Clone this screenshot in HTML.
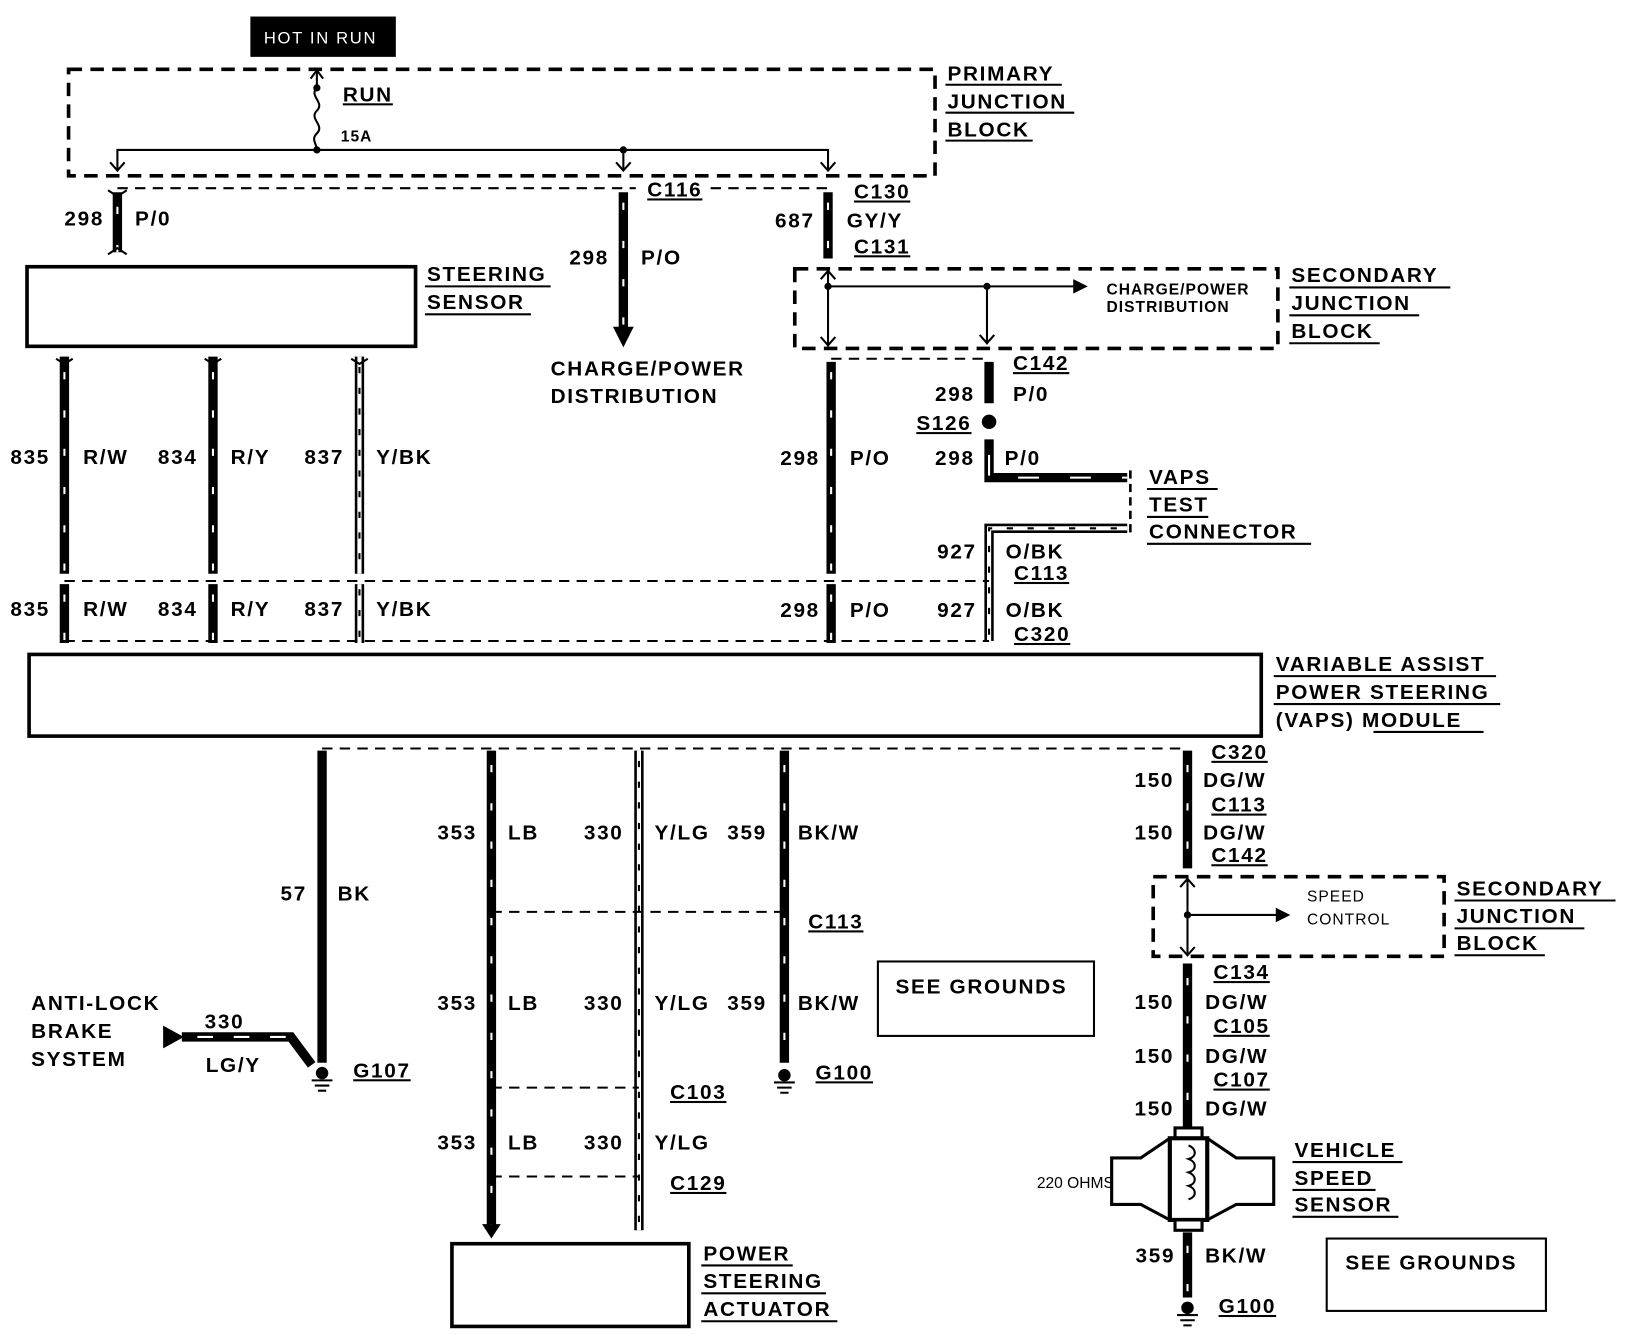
<!DOCTYPE html>
<html><head><meta charset="utf-8">
<style>
html,body{margin:0;padding:0;background:#fff}
svg{display:block}
text{font-family:"Liberation Sans",sans-serif;font-weight:bold;font-size:20px;letter-spacing:1.6px;fill:#000}
.u{text-decoration:underline}
.s{font-size:15px;letter-spacing:1px}
.w{stroke:#000;stroke-width:9;fill:none}
.wd{stroke:#fff;stroke-width:2;stroke-dasharray:7 30;fill:none}
.so{stroke:#000;stroke-width:9;fill:none}
.si{stroke:#fff;stroke-width:4;fill:none}
.sd{stroke:#000;stroke-width:2;stroke-dasharray:6 14;fill:none}
.db{stroke:#000;stroke-width:3.5;stroke-dasharray:13 8;fill:none}
.dt{stroke:#000;stroke-width:2;stroke-dasharray:10 7;fill:none}
.t{stroke:#000;stroke-width:2;fill:none}
.bx{stroke:#000;stroke-width:3.5;fill:#fff}
</style></head><body>
<svg width="1628" height="1344" viewBox="0 0 1567 1300" preserveAspectRatio="none" xmlns="http://www.w3.org/2000/svg">
<!-- top -->
<rect x="241" y="16" width="140" height="39" fill="#000"/>
<text x="254" y="42" style="fill:#fff;font-size:16px;font-weight:normal">HOT IN RUN</text>
<rect class="db" x="66" y="67" width="834" height="103"/>
<path class="t" d="M305 68 V85 M305 85 c-8 8 8 14 0 22 c-8 8 8 14 0 22 c-6 6 0 10 0 16"/>
<path class="t" d="M299 76 L305 68 L311 76"/>
<circle cx="305" cy="85" r="3.5"/><circle cx="305" cy="145" r="3.5"/>
<text class="u" x="330" y="98">RUN</text>
<text x="328" y="137" class="s">15A</text>
<path class="t" d="M113 165 V145 H797 V165 M600 145 V165"/>
<path class="t" d="M106 157 L113 165 L120 157 M593 157 L600 165 L607 157 M790 157 L797 165 L804 157"/>
<circle cx="600" cy="145" r="3.5"/>
<text x="912" y="78">PRIMARY</text><text x="912" y="105">JUNCTION</text><text x="912" y="132">BLOCK</text>
<path class="t" d="M910 82 H1022 M910 109 H1034 M910 136 H994" />
<path class="dt" d="M113 182 H612 M684 182 H797"/>
<!-- 298 left -->
<path class="w" d="M113 186 V244"/><path class="wd" d="M113 200 V244"/>
<path class="t" d="M104 184 L113 190 L122 184 M104 246 L113 240 L122 246"/>
<text x="62" y="218">298</text><text x="130" y="218">P/0</text>
<rect class="bx" x="26" y="258" width="374" height="77"/>
<text x="411" y="272">STEERING</text><text x="411" y="299">SENSOR</text>
<path class="t" d="M409 277 H530 M409 304 H511"/>
<!-- C116 -->
<path class="w" d="M600 186 V320"/><path class="wd" d="M600 196 V320"/>
<path d="M590 316 L610 316 L600 336 Z"/>
<text class="u" x="623" y="190">C116</text>
<text x="548" y="256">298</text><text x="617" y="256">P/O</text>
<text x="530" y="363">CHARGE/POWER</text><text x="530" y="390">DISTRIBUTION</text>
<!-- 687 -->
<path class="w" d="M797 186 V250"/><path class="wd" d="M797 196 V250"/>
<text x="746" y="220">687</text><text x="815" y="220">GY/Y</text>
<text class="u" x="822" y="192">C130</text><text class="u" x="822" y="245">C131</text>
<!-- secondary JB 1 -->
<rect class="db" x="765" y="260" width="465" height="77"/>
<path class="t" d="M797 262 V335 M797 277 H1035 M950 277 V333"/>
<path d="M1033 270 L1047 277 L1033 284 Z"/>
<path class="t" d="M790 270 L797 262 L804 270 M790 326 L797 334 L804 326 M943 324 L950 332 L957 324"/>
<circle cx="797" cy="277" r="3.5"/><circle cx="950" cy="277" r="3.5"/>
<text x="1065" y="285" class="s">CHARGE/POWER</text><text x="1065" y="302" class="s">DISTRIBUTION</text>
<text x="1243" y="273">SECONDARY</text><text x="1243" y="300">JUNCTION</text><text x="1243" y="327">BLOCK</text>
<path class="t" d="M1241 278 H1396 M1241 305 H1366 M1241 332 H1328"/>
<path class="dt" d="M800 347 H950"/>
<!-- 298 P/O center -->
<path class="w" d="M800 350 V555"/><path class="wd" d="M800 360 V555"/>
<path class="w" d="M800 565 V622"/><path class="wd" d="M800 575 V622"/>
<text x="751" y="450">298</text><text x="818" y="450">P/O</text>
<text x="751" y="597">298</text><text x="818" y="597">P/O</text>
<path class="w" d="M952 350 V390"/>
<circle cx="952" cy="408" r="7"/>
<path class="w" d="M952 425 V462 H1085"/><path class="wd" d="M952 440 V462 H1085" style="stroke-dasharray:20 30"/>
<text class="u" x="975" y="358">C142</text>
<text x="900" y="388">298</text><text x="975" y="388">P/0</text>
<text class="u" x="882" y="416">S126</text>
<text x="900" y="450">298</text><text x="967" y="450">P/0</text>
<path class="t" d="M1088 455 V520" style="stroke-dasharray:8 5;stroke-width:2.5"/>
<text x="1106" y="468">VAPS</text><text x="1106" y="495">TEST</text><text x="1106" y="521">CONNECTOR</text>
<path class="t" d="M1104 473 H1172 M1104 500 H1163 M1104 526 H1262"/>
<!-- O/BK -->
<path class="so" d="M1085 511 H952 V620"/><path class="si" d="M1085 511 H952 V620"/><path class="sd" d="M1075 511 H952 V620"/>
<text x="902" y="540">927</text><text x="968" y="540">O/BK</text><text class="u" x="976" y="561">C113</text>
<text x="902" y="597">927</text><text x="968" y="597">O/BK</text><text class="u" x="976" y="620">C320</text>
<!-- steering sensor wires -->
<path class="w" d="M62 345 V555 M205 345 V555 M62 565 V622 M205 565 V622"/>
<path class="wd" d="M62 360 V555 M205 360 V555 M62 575 V622 M205 575 V622"/>
<path class="so" d="M346 345 V555 M346 565 V622"/><path class="si" d="M346 345 V555 M346 565 V622"/><path class="sd" d="M346 355 V555 M346 570 V622"/>
<path class="t" d="M54 347 L62 352 L70 347 M197 347 L205 352 L213 347 M338 347 L346 352 L354 347"/>
<text x="10" y="449">835</text><text x="80" y="449">R/W</text><text x="152" y="449">834</text><text x="222" y="449">R/Y</text><text x="293" y="449">837</text><text x="362" y="449">Y/BK</text>
<text x="10" y="596">835</text><text x="80" y="596">R/W</text><text x="152" y="596">834</text><text x="222" y="596">R/Y</text><text x="293" y="596">837</text><text x="362" y="596">Y/BK</text>
<path class="dt" d="M62 562 H952 M62 620 H952"/>
<rect class="bx" x="28" y="633" width="1186" height="79"/>
<text x="1228" y="649">VARIABLE ASSIST</text><text x="1228" y="676">POWER STEERING</text><text x="1228" y="703">(VAPS) MODULE</text>
<path class="t" d="M1226 654 H1440 M1226 681 H1444 M1322 708 H1428"/>
<!-- bottom -->
<path class="dt" d="M310 724 H1143"/>
<path class="w" d="M310 726 V1028"/>
<text x="270" y="871">57</text><text x="325" y="871">BK</text>
<circle cx="310" cy="1038" r="6"/><path class="t" d="M300 1045 H320 M303 1050 H317 M306 1055 H314"/>
<text class="u" x="340" y="1042">G107</text>
<text x="30" y="977">ANTI-LOCK</text><text x="30" y="1004">BRAKE</text><text x="30" y="1031">SYSTEM</text>
<path d="M157 992 L157 1014 L177 1003 Z"/>
<path class="w" d="M175 1003 H280 L300 1030"/><path class="wd" d="M190 1003 H280" style="stroke-dasharray:15 20"/>
<text x="197" y="995">330</text><text x="198" y="1037">LG/Y</text>
<path class="w" d="M473 726 V1185"/><path class="wd" d="M473 740 V1185"/>
<path d="M464 1184 L482 1184 L473 1198 Z"/>
<path class="so" d="M615 726 V1190"/><path class="si" d="M615 726 V1190"/><path class="sd" d="M615 736 V1190"/>
<path class="w" d="M755 726 V1028"/><path class="wd" d="M755 740 V1028"/>
<circle cx="755" cy="1040" r="6"/><path class="t" d="M745 1047 H765 M748 1052 H762 M751 1057 H759"/>
<text class="u" x="785" y="1044">G100</text>
<text x="421" y="812">353</text><text x="489" y="812">LB</text><text x="562" y="812">330</text><text x="630" y="812">Y/LG</text><text x="700" y="812">359</text><text x="768" y="812">BK/W</text>
<text x="421" y="977">353</text><text x="489" y="977">LB</text><text x="562" y="977">330</text><text x="630" y="977">Y/LG</text><text x="700" y="977">359</text><text x="768" y="977">BK/W</text>
<text x="421" y="1112">353</text><text x="489" y="1112">LB</text><text x="562" y="1112">330</text><text x="630" y="1112">Y/LG</text>
<path class="dt" d="M473 882 H755 M473 1052 H615 M473 1138 H615"/>
<text class="u" x="778" y="898">C113</text><text class="u" x="645" y="1063">C103</text><text class="u" x="645" y="1151">C129</text>
<rect class="bx" x="845" y="930" width="208" height="72" style="stroke-width:2"/>
<text x="862" y="961">SEE GROUNDS</text>
<rect class="bx" x="435" y="1203" width="228" height="80"/>
<text x="677" y="1219">POWER</text><text x="677" y="1246">STEERING</text><text x="677" y="1273">ACTUATOR</text>
<path class="t" d="M675 1224 H763 M675 1251 H795 M675 1278 H806"/>
<!-- right -->
<path class="w" d="M1143 726 V840"/><path class="wd" d="M1143 740 V840"/>
<text class="u" x="1166" y="734">C320</text><text x="1092" y="761">150</text><text x="1158" y="761">DG/W</text>
<text class="u" x="1166" y="785">C113</text><text x="1092" y="812">150</text><text x="1158" y="812">DG/W</text>
<text class="u" x="1166" y="834">C142</text>
<rect class="db" x="1110" y="848" width="280" height="77"/>
<path class="t" d="M1143 850 V924 M1143 885 H1230"/>
<path d="M1228 878 L1242 885 L1228 892 Z"/><circle cx="1143" cy="885" r="3.5"/>
<path class="t" d="M1136 858 L1143 850 L1150 858 M1136 916 L1143 924 L1150 916"/>
<text x="1258" y="872" class="s" style="font-weight:normal">SPEED</text><text x="1258" y="894" class="s" style="font-weight:normal">CONTROL</text>
<text x="1402" y="866">SECONDARY</text><text x="1402" y="893">JUNCTION</text><text x="1402" y="919">BLOCK</text>
<path class="t" d="M1400 871 H1555 M1400 898 H1525 M1400 924 H1487"/>
<path class="w" d="M1143 932 V1092"/><path class="wd" d="M1143 946 V1092"/>
<text class="u" x="1168" y="947">C134</text><text x="1092" y="976">150</text><text x="1160" y="976">DG/W</text>
<text class="u" x="1168" y="999">C105</text><text x="1092" y="1028">150</text><text x="1160" y="1028">DG/W</text>
<text class="u" x="1168" y="1051">C107</text><text x="1092" y="1079">150</text><text x="1160" y="1079">DG/W</text>
<!-- VSS -->
<rect x="1131" y="1091" width="26" height="10" class="t" style="stroke-width:3;fill:#fff"/>
<path class="t" style="stroke-width:3" d="M1126 1101 L1098 1120 H1070 V1165 H1098 L1126 1180 M1162 1101 L1190 1120 H1226 V1165 H1190 L1162 1180"/>
<rect x="1126" y="1101" width="36" height="79" class="t" style="stroke-width:4;fill:#fff"/>
<path class="t" d="M1144 1108 c8 3 8 11 0 13 c8 3 8 11 0 13 c8 3 8 11 0 13 c8 3 8 11 0 13"/>
<rect x="1131" y="1180" width="26" height="10" class="t" style="stroke-width:3;fill:#fff"/>
<text x="998" y="1149" class="s" style="font-weight:normal;letter-spacing:0">220 OHMS</text>
<text x="1246" y="1119">VEHICLE</text><text x="1246" y="1146">SPEED</text><text x="1246" y="1172">SENSOR</text>
<path class="t" d="M1244 1124 H1350 M1244 1151 H1324 M1244 1177 H1346"/>
<path class="w" d="M1143 1192 V1255"/><path class="wd" d="M1143 1205 V1255"/>
<text x="1093" y="1221">359</text><text x="1160" y="1221">BK/W</text>
<circle cx="1143" cy="1265" r="6"/><path class="t" d="M1133 1272 H1153 M1136 1277 H1150 M1139 1282 H1147"/>
<text class="u" x="1173" y="1270">G100</text>
<rect class="bx" x="1277" y="1198" width="211" height="70" style="stroke-width:2"/>
<text x="1295" y="1228">SEE GROUNDS</text>
</svg>
</body></html>
